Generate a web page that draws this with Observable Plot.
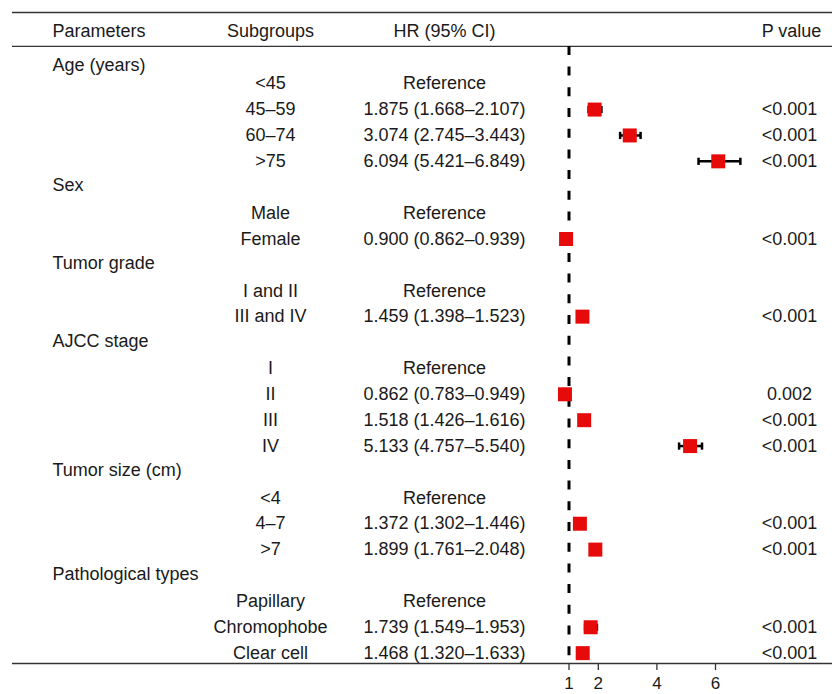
<!DOCTYPE html>
<html><head><meta charset="utf-8">
<script src="https://cdn.jsdelivr.net/npm/d3@7"></script>
<script src="https://cdn.jsdelivr.net/npm/@observablehq/plot@0.6"></script>
<style>body{margin:0;background:#fff}</style>
</head><body><div id="chart"></div>
<script>
// ---- data ----
const headers = ["Parameters", "Subgroups", "HR (95% CI)", "P value"];
const parameters = ["Age (years)", "Sex", "Tumor grade", "AJCC stage", "Tumor size (cm)", "Pathological types"];
const groupSizes = [4, 2, 2, 4, 3, 3];
const subgroups = ["<45", "45–59", "60–74", ">75", "Male", "Female", "I and II", "III and IV",
  "I", "II", "III", "IV", "<4", "4–7", ">7", "Papillary", "Chromophobe", "Clear cell"];
const hrValues = [null, 1.875, 3.074, 6.094, null, 0.900, null, 1.459, null, 0.862, 1.518, 5.133, null, 1.372, 1.899, null, 1.739, 1.468];
const ciLow = [null, 1.668, 2.745, 5.421, null, 0.862, null, 1.398, null, 0.783, 1.426, 4.757, null, 1.302, 1.761, null, 1.549, 1.320];
const ciHigh = [null, 2.107, 3.443, 6.849, null, 0.939, null, 1.523, null, 0.949, 1.616, 5.540, null, 1.446, 2.048, null, 1.953, 1.633];
const pValues = [null, "<0.001", "<0.001", "<0.001", null, "<0.001", null, "<0.001", null, "0.002", "<0.001", "<0.001", null, "<0.001", "<0.001", null, "<0.001", "<0.001"];
const xTicks = [1, 2, 4, 6];

// ---- build table rows ----
const headingRows = [];
const subRows = [];
let row = 0, k = 0;
parameters.forEach((p, gi) => {
  headingRows.push({row: row++, label: p, first: gi === 0});
  for (let j = 0; j < groupSizes[gi]; j++, k++) {
    const hr = hrValues[k];
    subRows.push({
      row: row++, sub: subgroups[k], hr, lo: ciLow[k], hi: ciHigh[k], p: pValues[k],
      hrText: hr == null ? "Reference" : `${hr.toFixed(3)} (${ciLow[k].toFixed(3)}–${ciHigh[k].toFixed(3)})`
    });
  }
});
const estRows = subRows.filter(d => d.hr != null);
const caps = estRows.flatMap(d => [{x: d.lo, row: d.row}, {x: d.hi, row: d.row}]);
const headerRow = -1;
const ruleTop = -1.75, ruleHeader = -0.44, ruleBottom = 23.4;

const capSymbol = {draw(ctx, size) { const h = Math.sqrt(size / Math.PI); ctx.moveTo(0, -h); ctx.lineTo(0, h); }};
const FS = 18;
const ink = "#1a1a1a";

const chart = Plot.plot({
  width: 832, height: 694,
  marginTop: 12, marginBottom: 31, marginLeft: 12, marginRight: 0,
  style: {fontFamily: "'Liberation Sans', Arial, sans-serif", fontSize: "18px", color: ink, background: "#fff"},
  x: {domain: [1, 6], range: [568.5, 715]},
  y: {domain: [ruleTop, ruleBottom], range: [12, 663], axis: null},
  marks: [
    Plot.ruleY([ruleTop, ruleHeader, ruleBottom], {stroke: "#333", strokeWidth: 1.3}),
    Plot.ruleX([1], {y1: ruleHeader, y2: ruleBottom, stroke: "#000", strokeWidth: 3, strokeDasharray: "9 11.7"}),
    Plot.axisX({ticks: xTicks, tickFormat: d3.format("d"), tickSize: 7, tickPadding: 6, fontSize: 17, label: null, stroke: "#333", strokeWidth: 1.3}),
    // header
    Plot.text([headers[0]], {y: () => headerRow, text: d => d, frameAnchor: "left", dx: 40, textAnchor: "start", fontSize: FS, fill: ink, dy: -1}),
    Plot.text([headers[1]], {y: () => headerRow, text: d => d, frameAnchor: "left", dx: 258, textAnchor: "middle", fontSize: FS, fill: ink, dy: -1}),
    Plot.text([headers[2]], {y: () => headerRow, text: d => d, frameAnchor: "left", dx: 432, textAnchor: "middle", fontSize: FS, fill: ink, dy: -1}),
    Plot.text([headers[3]], {y: () => headerRow, text: d => d, frameAnchor: "left", dx: 779, textAnchor: "middle", fontSize: FS, fill: ink, dy: -1}),
    // parameter headings
    Plot.text(headingRows.filter(d => !d.first), {y: "row", text: "label", frameAnchor: "left", dx: 40, textAnchor: "start", fontSize: FS, fill: ink, dy: -1.5}),
    Plot.text(headingRows.filter(d => d.first), {y: "row", text: "label", frameAnchor: "left", dx: 40, textAnchor: "start", fontSize: FS, fill: ink, dy: 7.5}),
    // subgroup columns
    Plot.text(subRows, {y: "row", text: "sub", frameAnchor: "left", dx: 258, textAnchor: "middle", fontSize: FS, fill: ink}),
    Plot.text(subRows, {y: "row", text: "hrText", frameAnchor: "left", dx: 432, textAnchor: "middle", fontSize: FS, fill: ink}),
    Plot.text(estRows, {y: "row", text: "p", frameAnchor: "left", dx: 777, textAnchor: "middle", fontSize: FS, fill: ink}),
    // forest
    Plot.ruleY(estRows, {y: "row", x1: "lo", x2: "hi", stroke: "#000", strokeWidth: 2.5}),
    Plot.dot(caps, {x: "x", y: "row", symbol: capSymbol, r: 3.6, fill: "none", stroke: "#000", strokeWidth: 2.5}),
    Plot.dot(estRows, {x: "hr", y: "row", symbol: "square", r: 7.9, fill: "#e60a0a", stroke: "none"})
  ]
});
document.getElementById("chart").appendChild(chart);
</script>
</body></html>
